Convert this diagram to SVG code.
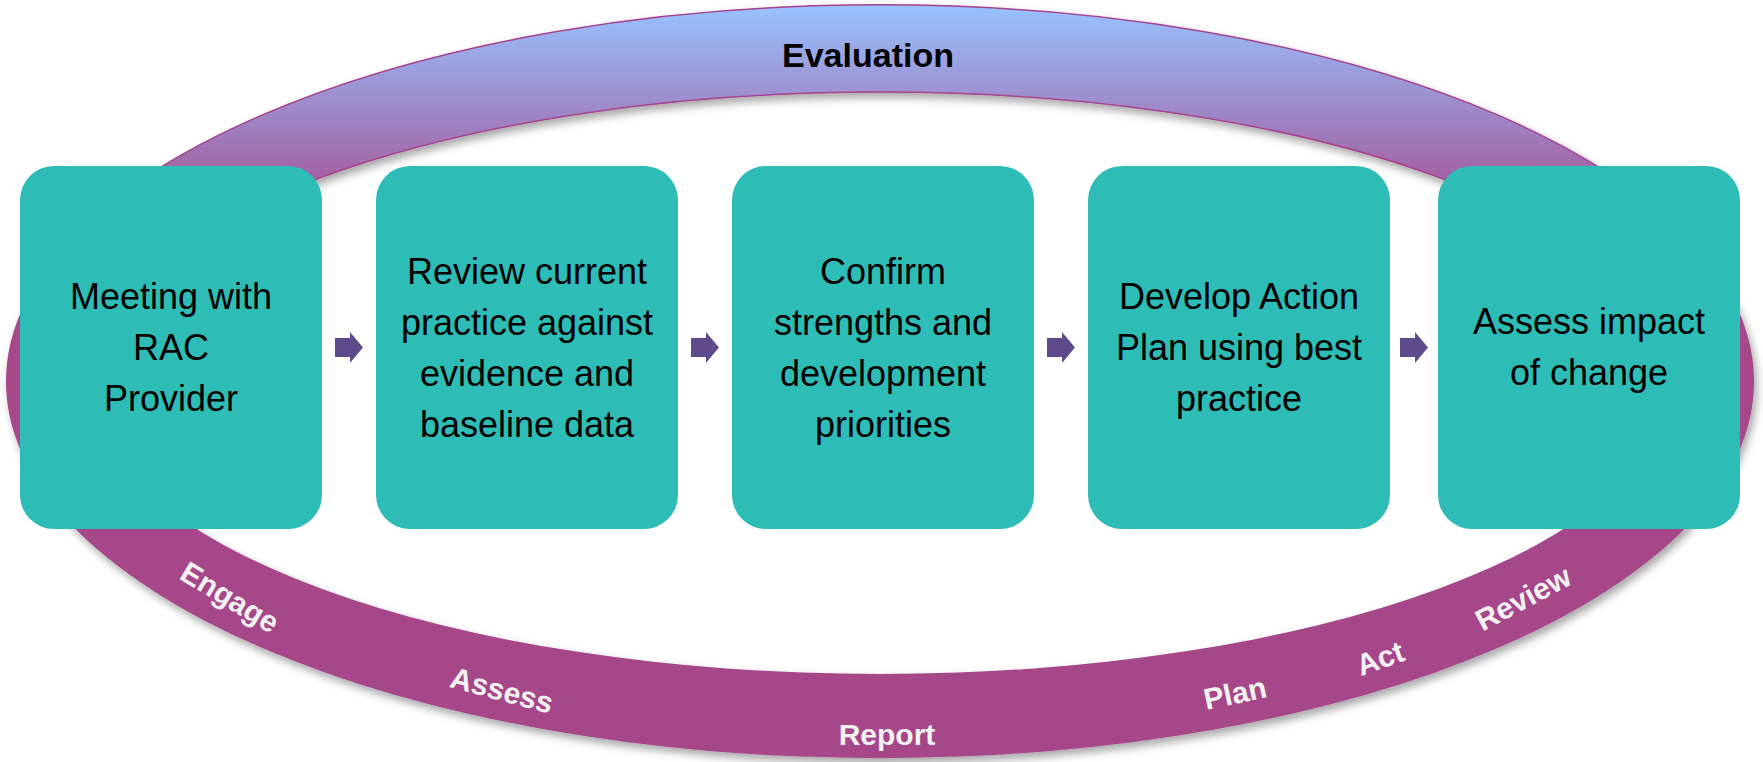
<svg xmlns="http://www.w3.org/2000/svg" width="1763" height="762" viewBox="0 0 1763 762">
  <style>
    .box { fill: #2ebcb6; }
    .btxt { font-family: "Liberation Sans", Arial, sans-serif; font-size: 36px; fill: #000; text-anchor: middle; }
    .band { font-family: "Liberation Sans", Arial, sans-serif; font-size: 30px; font-weight: bold; fill: #f2f2f2; text-anchor: middle; }
    .title { font-family: "Liberation Sans", Arial, sans-serif; font-size: 34px; font-weight: bold; fill: #000; text-anchor: middle; }
    .arrow { fill: #5f4b8b; }
  </style>
  <defs>
    <linearGradient id="evalGrad" gradientUnits="userSpaceOnUse" x1="0" y1="5" x2="0" y2="185">
      <stop offset="0" stop-color="#98c2ff"/>
      <stop offset="1" stop-color="#a35ea0"/>
    </linearGradient>
    <filter id="shadow" x="-5%" y="-5%" width="110%" height="115%">
      <feDropShadow dx="3" dy="5" stdDeviation="4" flood-color="#000" flood-opacity="0.35"/>
    </filter>
    <clipPath id="topClip">
      <rect x="0" y="0" width="1763" height="240"/>
    </clipPath>
    <path id="ringPath" fill-rule="evenodd" d="M 6 381.5 a 874 376.5 0 1 0 1748 0 a 874 376.5 0 1 0 -1748 0 Z M 90 383 a 790 291 0 1 0 1580 0 a 790 291 0 1 0 -1580 0 Z"/>
  </defs>
  <rect width="1763" height="762" fill="#fff"/>

  <g id="ring" filter="url(#shadow)">
    <use href="#ringPath" fill="#a54689"/>
    <g clip-path="url(#topClip)">
      <use href="#ringPath" fill="url(#evalGrad)" stroke="#a6448e" stroke-width="1.5"/>
    </g>
  </g>

  <g id="ring-labels">
    <text class="title" x="868" y="67">Evaluation</text>
    <g transform="translate(230,597) rotate(31)"><text class="band" x="0" y="10.7">Engage</text></g>
    <g transform="translate(502,690) rotate(15)"><text class="band" x="0" y="10.7">Assess</text></g>
    <text class="band" x="887" y="745">Report</text>
    <g transform="translate(1235,693) rotate(-12)"><text class="band" x="0" y="10.7">Plan</text></g>
    <g transform="translate(1380,658) rotate(-20)"><text class="band" x="0" y="10.7">Act</text></g>
    <g transform="translate(1523,598) rotate(-28)"><text class="band" x="0" y="10.7">Review</text></g>
  </g>

  <g id="node1">
    <rect class="box" x="20" y="166" width="302" height="363" rx="34" ry="34"/>
    <text class="btxt" x="171" y="309">Meeting with</text>
    <text class="btxt" x="171" y="360">RAC</text>
    <text class="btxt" x="171" y="411">Provider</text>
  </g>
  <g id="node2">
    <rect class="box" x="376" y="166" width="302" height="363" rx="34" ry="34"/>
    <text class="btxt" x="527" y="283.5">Review current</text>
    <text class="btxt" x="527" y="334.5">practice against</text>
    <text class="btxt" x="527" y="385.5">evidence and</text>
    <text class="btxt" x="527" y="436.5">baseline data</text>
  </g>
  <g id="node3">
    <rect class="box" x="732" y="166" width="302" height="363" rx="34" ry="34"/>
    <text class="btxt" x="883" y="283.5">Confirm</text>
    <text class="btxt" x="883" y="334.5">strengths and</text>
    <text class="btxt" x="883" y="385.5">development</text>
    <text class="btxt" x="883" y="436.5">priorities</text>
  </g>
  <g id="node4">
    <rect class="box" x="1088" y="166" width="302" height="363" rx="34" ry="34"/>
    <text class="btxt" x="1239" y="309">Develop Action</text>
    <text class="btxt" x="1239" y="360">Plan using best</text>
    <text class="btxt" x="1239" y="411">practice</text>
  </g>
  <g id="node5">
    <rect class="box" x="1438" y="166" width="302" height="363" rx="34" ry="34"/>
    <text class="btxt" x="1589" y="334">Assess impact</text>
    <text class="btxt" x="1589" y="385">of change</text>
  </g>

  <g id="connectors">
    <polygon class="arrow" points="335,338 350,338 350,332 363,347.5 350,363 350,357 335,357"/>
    <polygon class="arrow" points="691,338 706,338 706,332 719,347.5 706,363 706,357 691,357"/>
    <polygon class="arrow" points="1047,338 1062,338 1062,332 1075,347.5 1062,363 1062,357 1047,357"/>
    <polygon class="arrow" points="1400,338 1415,338 1415,332 1428,347.5 1415,363 1415,357 1400,357"/>
  </g>
</svg>
